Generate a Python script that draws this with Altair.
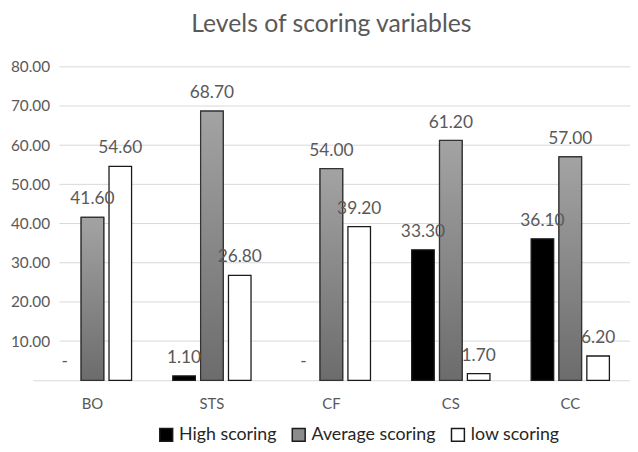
import altair as alt
import pandas as pd

categories = ["BO", "STS", "CF", "CS", "CC"]
series = ["High scoring", "Average scoring", "low scoring"]
high = [0.0, 1.1, 0.0, 33.3, 36.1]
average = [41.6, 68.7, 54.0, 61.2, 57.0]
low = [54.6, 26.8, 39.2, 1.7, 6.2]
y_ticks = [10, 20, 30, 40, 50, 60, 70, 80]

rows = []
for s, vals in zip(series, [high, average, low]):
    for c, v in zip(categories, vals):
        rows.append({"cat": c, "series": s, "value": v,
                     "label": "-" if v == 0 else f"{v:.2f}"})
df = pd.DataFrame(rows)
grid_df = pd.DataFrame({"v": y_ticks})

W, H = 604, 317
FONT = "Lato"
TXT = "#595959"

xenc = alt.X("cat:N", sort=categories,
             scale=alt.Scale(paddingInner=0, paddingOuter=0),
             axis=alt.Axis(title=None, labelAngle=0, ticks=False, domainColor="#d9d9d9",
                           labelPadding=17, labelFont=FONT, labelFontSize=15, labelColor=TXT))
xoff = alt.XOffset("series:N", sort=series,
                   scale=alt.Scale(domain=series, paddingInner=0.19, paddingOuter=0.74))
yscale = alt.Scale(domain=[0, 80], nice=False)

grid = alt.Chart(grid_df).mark_rule(color="#d9d9d9", strokeWidth=1).encode(
    y=alt.Y("v:Q", scale=yscale,
            axis=alt.Axis(values=y_ticks, format=".2f", grid=False, domain=False, ticks=False,
                          offset=-27, labelPadding=10, title=None, labelFont=FONT,
                          labelFontSize=15.5, labelColor=TXT)),
    x=alt.value(27), x2=alt.value(W),
)

bars = alt.Chart(df).transform_filter("datum.value > 0").mark_bar(
    stroke="#1a1a1a", strokeWidth=1.3).encode(
    x=xenc, xOffset=xoff,
    y=alt.Y("value:Q", scale=yscale),
    fill=alt.Fill("series:N", sort=series,
                  scale=alt.Scale(domain=series, range=["#000000", "#8c8c8c", "#ffffff"]),
                  legend=alt.Legend(title=None, orient="none", legendX=126, legendY=363,
                                    direction="horizontal", symbolType="square", symbolSize=170,
                                    symbolStrokeColor="#1a1a1a", symbolStrokeWidth=1.5,
                                    labelFont=FONT, labelFontSize=18, labelColor="#262626",
                                    columnPadding=12, labelOffset=4)),
)

grad = alt.Gradient(gradient="linear", x1=0, y1=0, x2=0, y2=1,
                    stops=[alt.GradientStop(offset=0, color="#a3a3a3"),
                           alt.GradientStop(offset=1, color="#6c6c6c")])
avg_bars = alt.Chart(df).transform_filter("datum.series == 'Average scoring'").mark_bar(
    fill=grad, stroke="#333333", strokeWidth=1.2).encode(
    x=xenc, xOffset=xoff, y=alt.Y("value:Q", scale=yscale),
)

labels = alt.Chart(df).mark_text(baseline="bottom", dy=-9, font=FONT, fontSize=17.5,
                                 color=TXT).encode(
    x=xenc, xOffset=xoff, y=alt.Y("value:Q", scale=yscale), text="label:N",
)

chart = alt.layer(grid, bars, avg_bars, labels).properties(
    width=W, height=H,
    title=alt.TitleParams("Levels of scoring variables", font=FONT, fontSize=25,
                          fontWeight="normal", color=TXT, anchor="middle", offset=23),
    autosize=alt.AutoSizeParams(type="none"),
    padding={"left": 25, "top": 57, "right": 0, "bottom": 67},
).configure_view(stroke=None)

chart.save("out.html", embed_options={"renderer": "svg", "actions": False})
